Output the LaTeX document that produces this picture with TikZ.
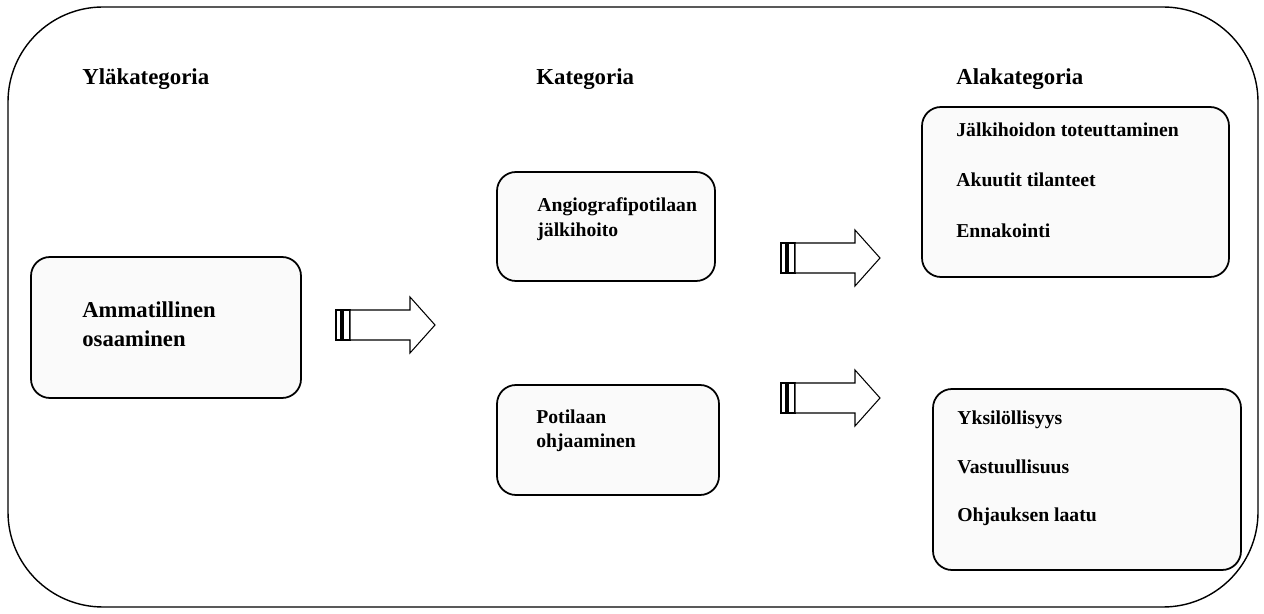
\documentclass[tikz,border=0pt]{standalone}
\usepackage{fontspec}
\setmainfont{Liberation Serif}
\begin{document}
\begin{tikzpicture}[x=0.02cm,y=-0.02cm,
  frame/.style={draw=black, line width=0.8pt, rounded corners=1.9cm},
  box/.style={draw=black, line width=1pt, fill=black!2, rounded corners=0.38cm},
  head/.style={anchor=base west, inner sep=0pt, font=\bfseries\fontsize{13}{15}\selectfont},
  big/.style={anchor=base west, inner sep=0pt, font=\bfseries\fontsize{12.9}{15}\selectfont},
  txt/.style={anchor=base west, inner sep=0pt, font=\bfseries\fontsize{11.2}{13}\selectfont},
  blockarrow/.style={draw=black, line width=0.6pt, fill=white}]
\useasboundingbox (0,0) rectangle (1264,614);
\draw[frame] (8,7) rectangle (1258,607);
% boxes
\draw[box] (31,257) rectangle (301,398);
\draw[box] (497,172) rectangle (715,281);
\draw[box] (497,385) rectangle (719,495);
\draw[box] (922,107) rectangle (1229,277);
\draw[box] (933,389) rectangle (1241,570);
% headers
\node[head] (h1) at (82,85) {Yläkategoria};
\node[head] (h2) at (536,85) {Kategoria};
\node[head] (h3) at (956,85) {Alakategoria};
% box texts
\node[big] (a1) at (82,318) {Ammatillinen};
\node[big] (a2) at (82,347) {osaaminen};
\node[txt] (k1) at (537,212) {Angiografipotilaan};
\node[txt] (k2) at (537,237) {jälkihoito};
\node[txt] (p1) at (536,424) {Potilaan};
\node[txt] (p2) at (536,448) {ohjaaminen};
\node[txt] (s1) at (956,137) {Jälkihoidon toteuttaminen};
\node[txt] (s2) at (956,187) {Akuutit tilanteet};
\node[txt] (s3) at (956,238) {Ennakointi};
\node[txt] (t1) at (957,425) {Yksilöllisyys};
\node[txt] (t2) at (957,474) {Vastuullisuus};
\node[txt] (t3) at (957,521) {Ohjauksen laatu};
% block arrows
\foreach \x/\y in {336/325, 781/258, 781/398} {
  \begin{scope}[shift={(\x,\y)}]
    \draw[blockarrow] (0,-15) rectangle (5,15);
    \draw[blockarrow] (7,-15) rectangle (14,15);
    \draw[blockarrow] (14,-15) -- (74,-15) -- (74,-28) -- (99,0) -- (74,28) -- (74,15) -- (14,15) -- cycle;
  \end{scope}
}
\end{tikzpicture}
\end{document}
